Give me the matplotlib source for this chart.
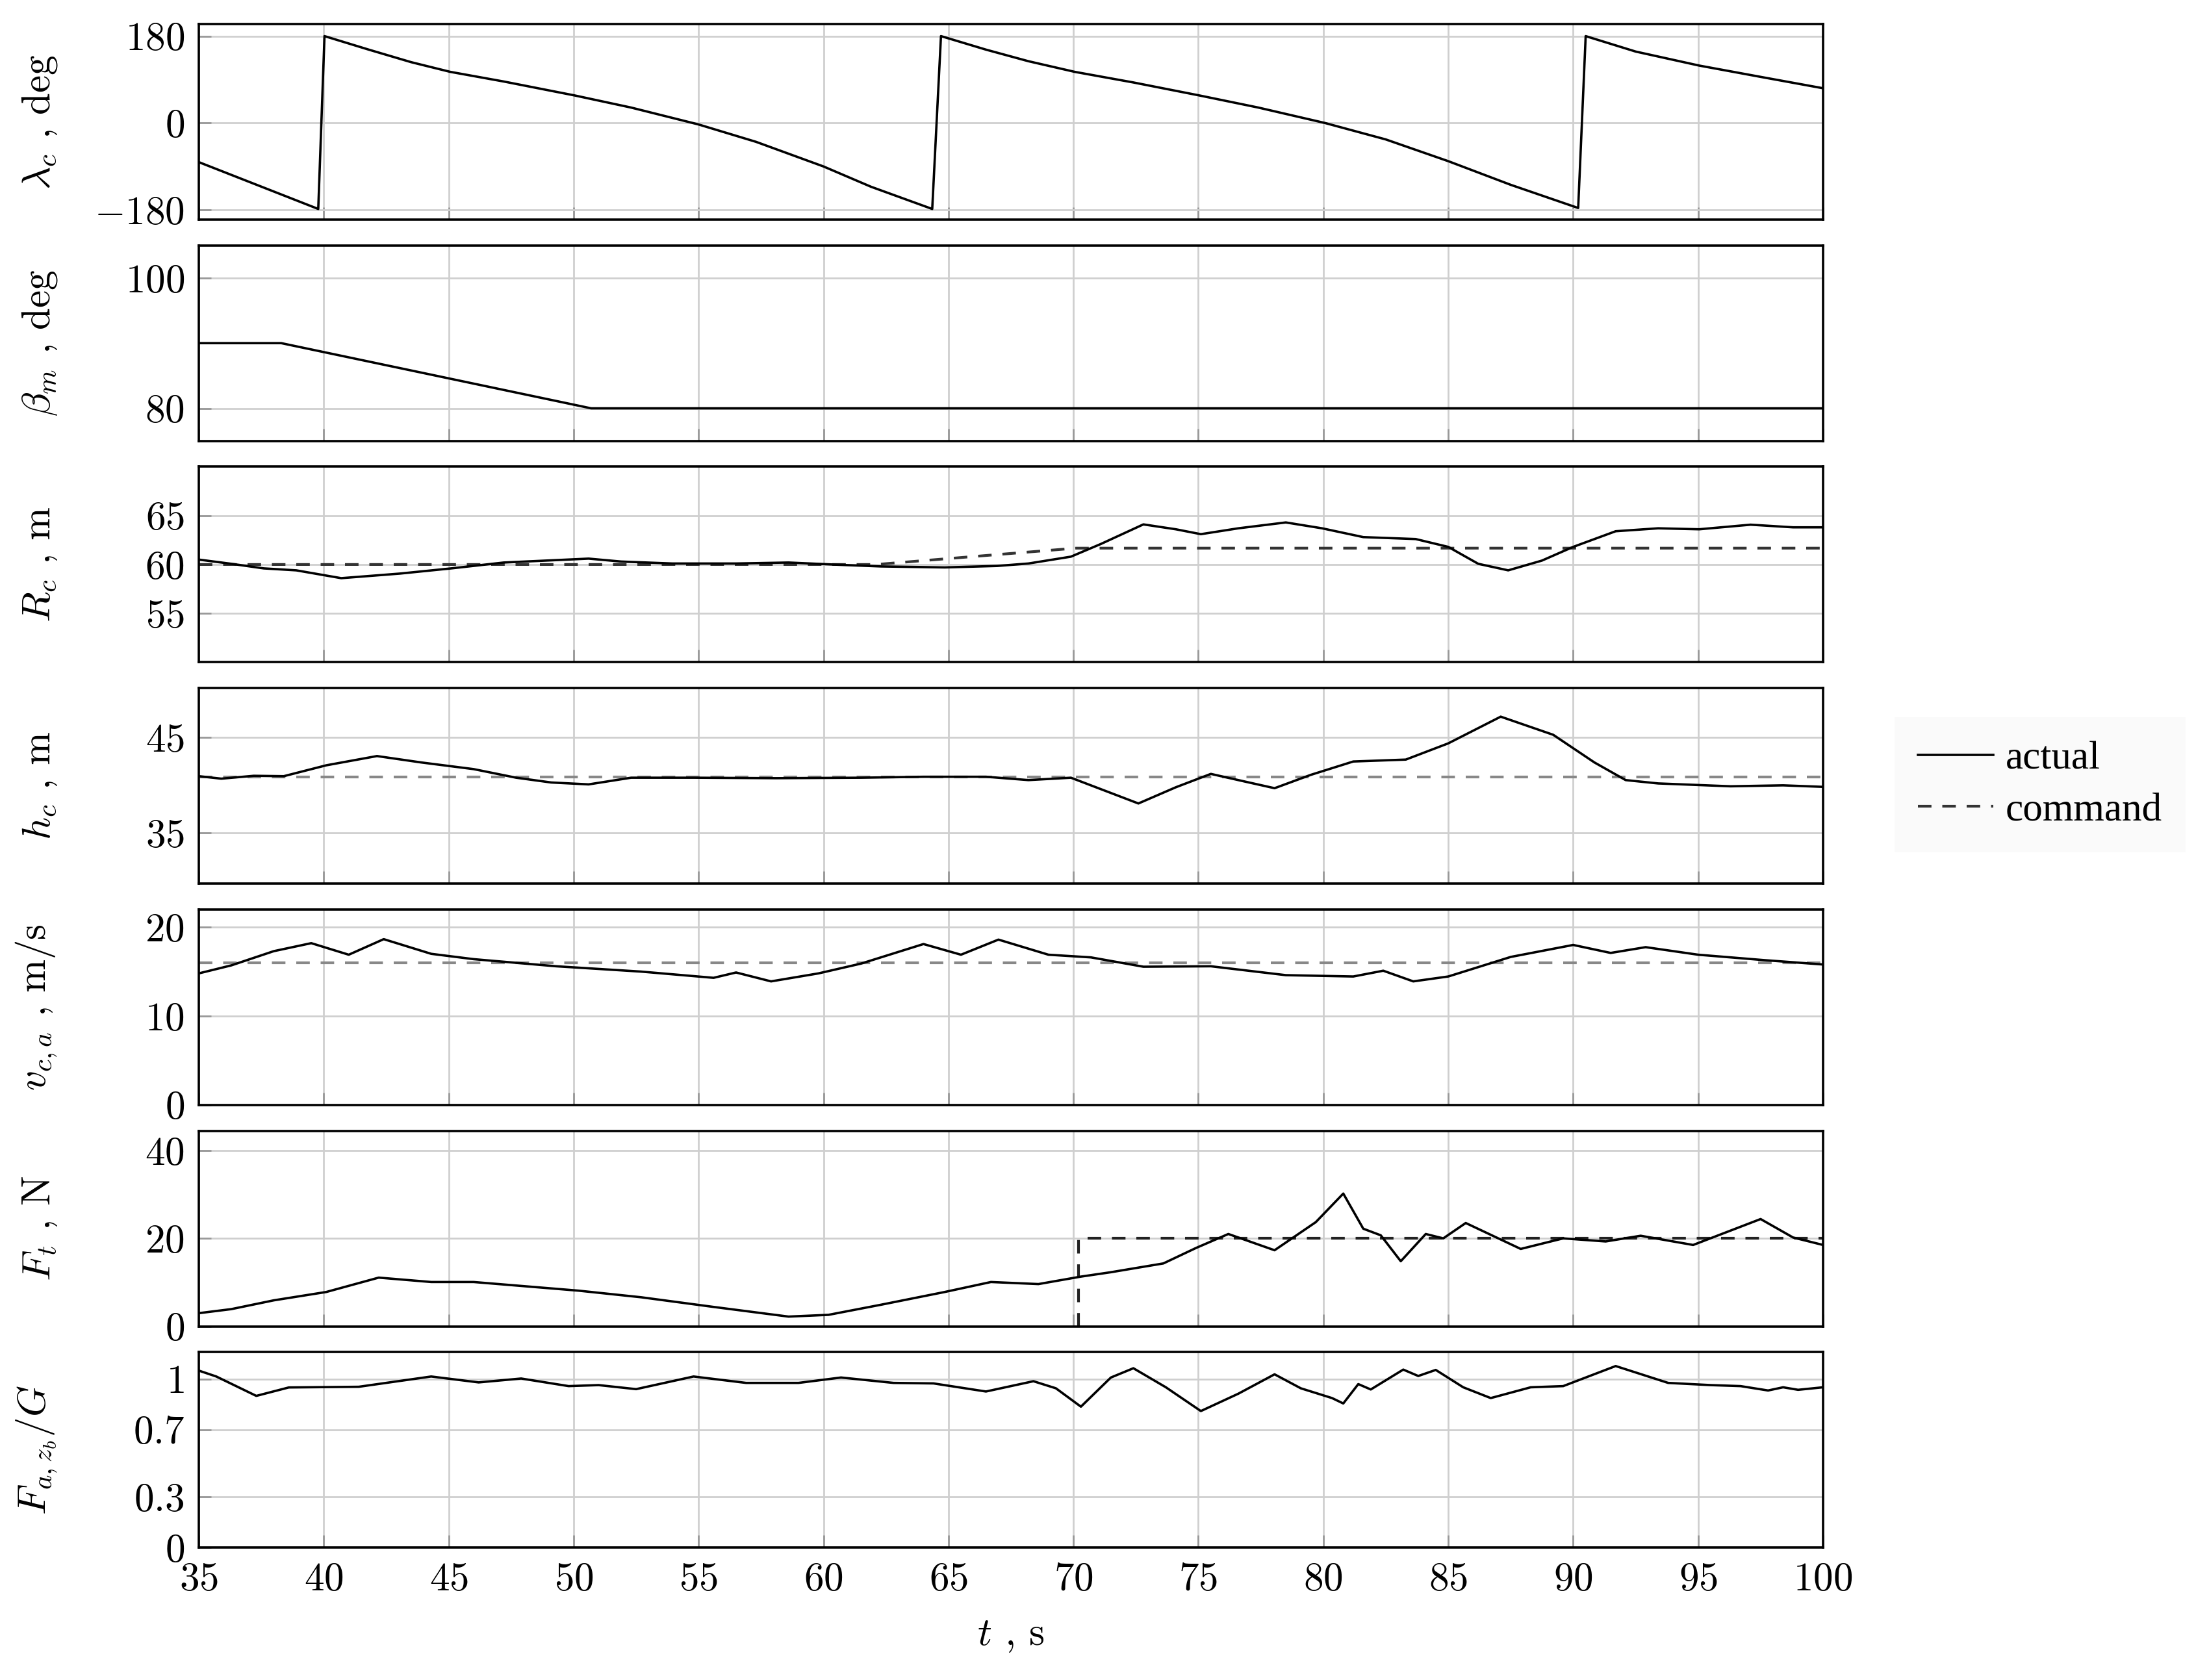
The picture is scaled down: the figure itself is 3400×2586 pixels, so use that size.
import numpy as np
import matplotlib
matplotlib.use('Agg')
import matplotlib.pyplot as plt
from matplotlib.ticker import FuncFormatter
from matplotlib.lines import Line2D

plt.rcParams['font.family'] = 'serif'
plt.rcParams['font.serif'] = ['cmr10']
plt.rcParams['mathtext.fontset'] = 'cm'
plt.rcParams['axes.unicode_minus'] = True
plt.rcParams['axes.formatter.use_mathtext'] = True

# lambda_c, deg
t_lam = [35, 39.78, 40.03, 41.8, 43.5, 45.06, 47.2, 50.05, 52.3, 55.0, 57.3, 60.0, 61.9, 64.35,
         64.7, 66.5, 68.2, 70.05, 72.4, 75.05, 77.4, 80.07, 82.5, 85.0, 87.5, 90.2,
         90.5, 92.5, 95.04, 97.56, 100]
lam = [-81, -178, 180, 152, 126, 106, 86, 57, 32, -3, -39, -90, -132, -178,
       180, 152, 128, 106, 84, 57, 32, 0, -34, -79, -128, -176,
       180, 148, 119, 95, 72]

# beta_m, deg
t_beta = [35, 38.3, 50.7, 100]
beta = [90, 90, 80, 80]

# R_c, m
t_R = [35, 36.3, 37.6, 38.9, 40.7, 43.05, 45.1, 47.2, 48.9, 50.6, 51.9, 53.95, 56.5, 58.6,
       60.7, 62.3, 64.85, 66.95, 68.2, 69.9, 71.1, 72.8, 74.1, 75.1, 76.6, 78.5, 79.95,
       81.6, 83.7, 85.0, 86.2, 87.4, 88.75, 90.0, 91.7, 93.4, 95.04, 97.1, 98.8, 100]
R = [60.5, 60.07, 59.6, 59.4, 58.6, 59.07, 59.6, 60.2, 60.4, 60.6, 60.3, 60.1, 60.1, 60.2,
     59.96, 59.8, 59.7, 59.85, 60.1, 60.8, 62.1, 64.1, 63.6, 63.1, 63.7, 64.3, 63.7,
     62.8, 62.6, 61.8, 60.07, 59.4, 60.4, 61.8, 63.4, 63.7, 63.6, 64.07, 63.8, 63.8]
t_R_cmd = [35, 62.1, 70.1, 100]
R_cmd = [60, 60, 61.67, 61.67]

# h_c, m
t_h = [35, 35.9, 37.2, 38.4, 40.1, 42.13, 43.9, 46.0, 47.7, 49.1, 50.6, 52.3, 54.8, 58.1,
       61.5, 64.0, 66.5, 68.2, 69.9, 71.1, 72.6, 74.1, 75.5, 76.6, 78.05, 79.5, 81.2,
       83.3, 85.0, 87.1, 89.2, 90.85, 92.1, 93.4, 96.3, 98.4, 100]
h = [40.96, 40.7, 41.0, 40.96, 42.1, 43.07, 42.4, 41.7, 40.8, 40.3, 40.1, 40.8, 40.8, 40.75,
     40.8, 40.9, 40.9, 40.55, 40.8, 39.6, 38.1, 39.8, 41.2, 40.55, 39.7, 41.1, 42.5,
     42.7, 44.4, 47.2, 45.3, 42.4, 40.55, 40.2, 39.9, 40.0, 39.84]
t_h_cmd = [35, 100]
h_cmd = [40.9, 40.9]

# v_{c,a}, m/s
t_v = [35, 36.3, 38.0, 39.5, 41.0, 42.4, 44.3, 46.0, 49.3, 52.7, 55.6, 56.5, 57.9, 59.8,
       61.5, 64.0, 65.5, 67.0, 69.0, 70.7, 72.8, 75.5, 78.5, 81.2, 82.4, 83.6, 85.0,
       87.5, 90.0, 91.5, 92.9, 95.0, 97.6, 100]
v = [14.8, 15.7, 17.3, 18.2, 16.9, 18.65, 17.0, 16.4, 15.6, 15.0, 14.3, 14.9, 13.9, 14.8,
     15.9, 18.1, 16.9, 18.6, 16.9, 16.6, 15.55, 15.6, 14.6, 14.45, 15.1, 13.9, 14.45,
     16.65, 18.0, 17.1, 17.75, 16.9, 16.3, 15.8]
t_v_cmd = [35, 100]
v_cmd = [16, 16]

# F_t, N
t_F = [35, 36.3, 38.0, 40.1, 42.2, 44.3, 46.0, 50.2, 52.7, 55.6, 58.6, 60.2, 62.3, 64.85,
       66.7, 68.6, 70.3, 71.5, 73.6, 74.9, 76.2, 78.05, 79.7, 80.8, 81.6, 82.3, 83.1,
       84.1, 84.8, 85.7, 87.9, 89.6, 91.3, 92.7, 94.8, 97.5, 98.8, 100]
F = [2.98, 3.9, 5.9, 7.8, 11.07, 10.07, 10.07, 8.1, 6.6, 4.4, 2.2, 2.6, 4.9, 7.8,
     10.07, 9.6, 11.3, 12.3, 14.3, 17.8, 21.0, 17.3, 23.7, 30.2, 22.2, 20.7, 14.8,
     21.0, 20.0, 23.5, 17.6, 20.0, 19.3, 20.6, 18.5, 24.4, 20.2, 18.5]
t_F_cmd = [70.2, 70.2, 100]
F_cmd = [0, 20, 20]

# F_{a,z_b}/G
t_Fa = [35, 35.7, 37.3, 38.6, 41.4, 44.3, 46.2, 47.9, 49.8, 51.0, 52.5, 54.8, 56.9, 59.0,
        60.7, 62.8, 64.4, 66.5, 68.4, 69.3, 70.3, 71.5, 72.4, 73.7, 75.1, 76.6, 78.05,
        79.1, 80.35, 80.8, 81.4, 81.9, 83.2, 83.8, 84.5, 85.6, 86.7, 88.3, 89.6, 91.7,
        93.8, 95.5, 96.7, 97.8, 98.4, 99.0, 100]
Fa = [1.05, 1.015, 0.90, 0.95, 0.954, 1.015, 0.98, 1.003, 0.958, 0.964, 0.94, 1.015, 0.977, 0.977,
      1.009, 0.977, 0.974, 0.926, 0.987, 0.945, 0.836, 1.009, 1.064, 0.951, 0.81, 0.913, 1.028,
      0.945, 0.887, 0.855, 0.97, 0.938, 1.056, 1.018, 1.054, 0.951, 0.887, 0.951, 0.958, 1.077,
      0.977, 0.964, 0.958, 0.932, 0.951, 0.936, 0.951]

panels = [
    (r'$\lambda_c$ , deg', t_lam, lam, None, None, None, (-200, 205), [-180, 0, 180]),
    (r'$\beta_m$ , deg', t_beta, beta, None, None, None, (75, 105), [80, 100]),
    (r'$R_c$ , m', t_R, R, t_R_cmd, R_cmd, '#333333', (50, 70), [55, 60, 65]),
    (r'$h_c$ , m', t_h, h, t_h_cmd, h_cmd, '#888888', (29.7, 50.2), [35, 45]),
    (r'$v_{c,a}$ , m/s', t_v, v, t_v_cmd, v_cmd, '#888888', (0, 22), [0, 10, 20]),
    (r'$F_t$ , N', t_F, F, t_F_cmd, F_cmd, '#222222', (0, 44.5), [0, 20, 40]),
    (r'$F_{a,z_b}/G$', t_Fa, Fa, None, None, None, (0, 1.16), [0, 0.3, 0.7, 1]),
]

W, H = 3400, 2586
fig = plt.figure(figsize=(W / 200, H / 200), dpi=200)
fmt = FuncFormatter(lambda val, pos: '$%g$' % val)

left, right = 306, 2806
for i, (label, tx, y, tc, yc, ccol, ylim, yticks) in enumerate(panels):
    top = 37 + i * 340.7
    ax = fig.add_axes([left / W, 1 - (top + 301) / H, (right - left) / W, 301 / H])
    ax.plot(tx, y, color='black', lw=1.3, zorder=3)
    if tc is not None:
        ax.plot(tc, yc, color=ccol, lw=1.5, ls=(0, (5, 4)), zorder=2)
    ax.set_xlim(35, 100)
    ax.set_ylim(*ylim)
    ax.set_xticks(np.arange(35, 101, 5))
    ax.set_yticks(yticks)
    ax.yaxis.set_major_formatter(fmt)
    ax.xaxis.set_major_formatter(fmt)
    ax.grid(True, color='#cfcfcf', lw=1.0, zorder=0)
    ax.tick_params(direction='in', length=7, width=1.0, color='#999999', labelsize=22, pad=8)
    for s in ax.spines.values():
        s.set_linewidth(1.3)
    ax.set_ylabel(label, fontsize=22)
    ax.yaxis.set_label_coords(-0.086, 0.5)
    if i < len(panels) - 1:
        ax.tick_params(labelbottom=False)
    else:
        ax.set_xlabel(r'$t$ , s', fontsize=22)
        ax.xaxis.set_label_coords(0.5, -0.36)

handles = [Line2D([], [], color='black', lw=1.3),
           Line2D([], [], color='#333333', lw=1.5, ls=(0, (5, 4)))]
leg = fig.legend(handles, ['actual', 'command'], loc='center left',
                 bbox_to_anchor=(2885 / W, 1 - 1208 / H),
                 prop={'family': 'Liberation Serif', 'size': 22},
                 frameon=True, facecolor='#f9f9f9', edgecolor='none', fancybox=False,
                 handlelength=1.9, handletextpad=0.3, labelspacing=0.38, borderpad=0.6)

fig.savefig('out.png', dpi=200)
